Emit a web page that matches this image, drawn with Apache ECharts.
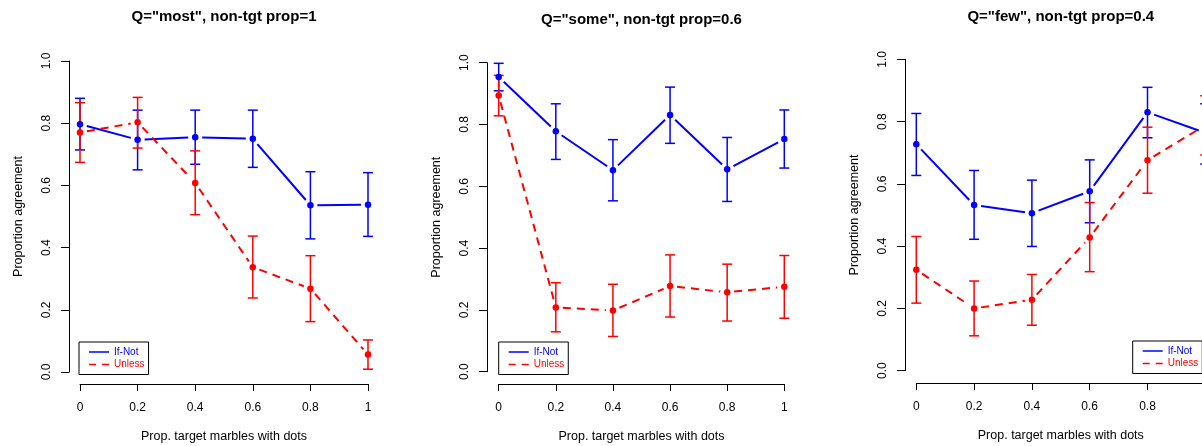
<!DOCTYPE html>
<html>
<head>
<meta charset="utf-8">
<title>Proportion agreement</title>
<script src="https://cdn.jsdelivr.net/npm/echarts@6.0.0/dist/echarts.min.js"></script>
<style>
html, body { margin: 0; padding: 0; background: #fff; }
#chart { width: 1202px; height: 446px; }
</style>
</head>
<body>
<div id="chart"></div>
<script>
// data
const xVals = [0, 0.2, 0.4, 0.6, 0.8, 1];
const xTickLabels = ['0', '0.2', '0.4', '0.6', '0.8', '1'];
const yTickLabels = ['0.0', '0.2', '0.4', '0.6', '0.8', '1.0'];
const panelTitles = ['Q="most", non-tgt prop=1', 'Q="some", non-tgt prop=0.6', 'Q="few", non-tgt prop=0.4'];

const mostIfNot = [0.797, 0.747, 0.755, 0.750, 0.536, 0.538];
const mostIfNotLo = [0.714, 0.650, 0.668, 0.658, 0.428, 0.436];
const mostIfNotHi = [0.880, 0.842, 0.842, 0.842, 0.644, 0.641];
const mostUnless = [0.770, 0.803, 0.608, 0.337, 0.268, 0.056];
const mostUnlessLo = [0.674, 0.720, 0.506, 0.238, 0.162, 0.009];
const mostUnlessHi = [0.866, 0.883, 0.711, 0.437, 0.374, 0.103];

const someIfNot = [0.954, 0.778, 0.652, 0.831, 0.655, 0.753];
const someIfNotLo = [0.909, 0.687, 0.553, 0.739, 0.551, 0.659];
const someIfNotHi = [0.998, 0.867, 0.751, 0.921, 0.758, 0.847];
const someUnless = [0.894, 0.208, 0.198, 0.277, 0.257, 0.275];
const someUnlessLo = [0.828, 0.129, 0.114, 0.177, 0.164, 0.173];
const someUnlessHi = [0.959, 0.288, 0.283, 0.378, 0.348, 0.376];

const fewIfNot = [0.727, 0.532, 0.506, 0.576, 0.830, 0.764];
const fewIfNotLo = [0.627, 0.422, 0.399, 0.475, 0.748, 0.664];
const fewIfNotHi = [0.826, 0.643, 0.612, 0.677, 0.910, 0.857];
const fewUnless = [0.324, 0.200, 0.228, 0.428, 0.676, 0.788];
const fewUnlessLo = [0.217, 0.112, 0.146, 0.318, 0.570, 0.693];
const fewUnlessHi = [0.431, 0.288, 0.309, 0.540, 0.782, 0.883];

const panelData = [
  { ifNot: [mostIfNot, mostIfNotLo, mostIfNotHi], unless: [mostUnless, mostUnlessLo, mostUnlessHi] },
  { ifNot: [someIfNot, someIfNotLo, someIfNotHi], unless: [someUnless, someUnlessLo, someUnlessHi] },
  { ifNot: [fewIfNot, fewIfNotLo, fewIfNotHi], unless: [fewUnless, fewUnlessLo, fewUnlessHi] }
];

// layout of the three plots (pixels)
const panels = [
  { left: 80, top: 61, width: 288, height: 311, xOff: 12, yOff: 11, titleTop: 9.5, legLeft: 79, legTop: 342 },
  { left: 498.7, top: 62.7, width: 285.6, height: 309, xOff: 12.3, yOff: 11.7, titleTop: 12.5, legLeft: 498.7, legTop: 342 },
  { left: 916.3, top: 59.3, width: 289, height: 311.4, xOff: 12.3, yOff: 11.3, titleTop: 9, legLeft: 1132.7, legTop: 341 }
];

const BLUE = '#0000ff';
const RED = '#ff0000';
const FONT = 'Liberation Sans, Arial, Helvetica, sans-serif';
const GAP = 7;

// line pieces between points, stopped short of each point
const segmentRender = (color, dash) => (params, api) => {
  const a = api.coord([api.value(0), api.value(1)]);
  const b = api.coord([api.value(2), api.value(3)]);
  const dx = b[0] - a[0], dy = b[1] - a[1];
  const len = Math.sqrt(dx * dx + dy * dy);
  if (len <= 2 * GAP) return null;
  const ux = dx / len, uy = dy / len;
  return {
    type: 'line',
    shape: { x1: a[0] + ux * GAP, y1: a[1] + uy * GAP, x2: b[0] - ux * GAP, y2: b[1] - uy * GAP },
    style: { stroke: color, lineWidth: 2, lineDash: dash, fill: null }
  };
};

const errRender = (color) => (params, api) => {
  const lo = api.coord([api.value(0), api.value(1)]);
  const hi = api.coord([api.value(0), api.value(2)]);
  const hw = 5;
  const st = { stroke: color, lineWidth: 1.5, fill: null };
  return {
    type: 'group',
    children: [
      { type: 'line', shape: { x1: lo[0], y1: lo[1], x2: hi[0], y2: hi[1] }, style: st },
      { type: 'line', shape: { x1: lo[0] - hw, y1: lo[1], x2: lo[0] + hw, y2: lo[1] }, style: st },
      { type: 'line', shape: { x1: hi[0] - hw, y1: hi[1], x2: hi[0] + hw, y2: hi[1] }, style: st }
    ]
  };
};

const makeGroup = (name, color, dash, vals, idx) => {
  const mean = vals[0], lo = vals[1], hi = vals[2];
  const segs = [];
  for (let i = 0; i < xVals.length - 1; i++) {
    segs.push([xVals[i], mean[i], xVals[i + 1], mean[i + 1]]);
  }
  return [
    {
      name: name, type: 'custom', xAxisIndex: idx, yAxisIndex: idx,
      itemStyle: { color: color }, clip: false,
      renderItem: segmentRender(color, dash), data: segs
    },
    {
      name: name, type: 'custom', xAxisIndex: idx, yAxisIndex: idx,
      itemStyle: { color: color }, clip: false,
      renderItem: errRender(color), data: xVals.map((x, i) => [x, lo[i], hi[i]])
    },
    {
      name: name, type: 'scatter', xAxisIndex: idx, yAxisIndex: idx,
      symbol: 'circle', symbolSize: 6.5, itemStyle: { color: color, opacity: 1 }, clip: false,
      data: xVals.map((x, i) => [x, mean[i]])
    }
  ];
};

let grids = [], xAxes = [], yAxes = [], titles = [], legends = [], series = [];
panels.forEach((p, idx) => {
  grids.push({ left: p.left, top: p.top, width: p.width, height: p.height, outerBoundsMode: 'none', containLabel: false });
  titles.push({
    text: panelTitles[idx], left: p.left + p.width / 2, top: p.titleTop, textAlign: 'center', padding: 0,
    textStyle: { fontFamily: FONT, fontSize: 15, fontWeight: 'bold', color: '#000' }
  });
  xAxes.push({
    gridIndex: idx, type: 'value', min: 0, max: 1, interval: 0.2, offset: p.xOff,
    name: 'Prop. target marbles with dots', nameLocation: 'middle', nameGap: 46,
    nameTextStyle: { fontFamily: FONT, fontSize: 12.5, color: '#000' },
    axisLine: { show: true, onZero: false, lineStyle: { color: '#000', width: 1 } },
    axisTick: { show: true, length: 7, lineStyle: { color: '#000', width: 1 } },
    axisLabel: {
      fontFamily: FONT, fontSize: 12, color: '#000', margin: 18,
      formatter: (v) => xTickLabels[Math.round(v / 0.2)]
    },
    splitLine: { show: false }
  });
  yAxes.push({
    gridIndex: idx, type: 'value', min: 0, max: 1, interval: 0.2, offset: p.yOff,
    name: 'Proportion agreement', nameLocation: 'middle', nameGap: 44,
    nameTextStyle: { fontFamily: FONT, fontSize: 12.5, color: '#000' },
    axisLine: { show: true, onZero: false, lineStyle: { color: '#000', width: 1 } },
    axisTick: { show: true, length: 8, lineStyle: { color: '#000', width: 1 } },
    axisLabel: {
      fontFamily: FONT, fontSize: 12, color: '#000', margin: 16, rotate: 90,
      formatter: (v) => yTickLabels[Math.round(v / 0.2)]
    },
    splitLine: { show: false }
  });
  legends.push({
    left: p.legLeft, top: p.legTop, orient: 'vertical', selectedMode: false,
    padding: [5, 4, 5, 10], itemGap: 2.5, itemWidth: 20, itemHeight: 1.5,
    borderColor: '#000', borderWidth: 1, borderRadius: 0,
    textStyle: { fontFamily: FONT, fontSize: 10, lineHeight: 10 },
    data: [
      { name: 'If-Not', icon: 'path://M0,0H20V1.5H0Z', textStyle: { color: BLUE } },
      { name: 'Unless', icon: 'path://M0,0H7V1.5H0Z M13,0H20V1.5H13Z', textStyle: { color: RED } }
    ]
  });
  series = series.concat(makeGroup('If-Not', BLUE, null, panelData[idx].ifNot, idx));
  series = series.concat(makeGroup('Unless', RED, [8, 6], panelData[idx].unless, idx));
});

const chart = echarts.init(document.getElementById('chart'));
chart.setOption({
  animation: false,
  backgroundColor: '#fff',
  title: titles,
  legend: legends,
  grid: grids,
  xAxis: xAxes,
  yAxis: yAxes,
  series: series
});
</script>
</body>
</html>
